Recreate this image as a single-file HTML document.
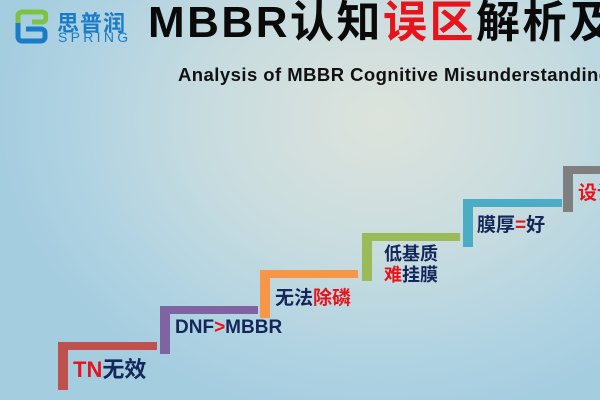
<!DOCTYPE html>
<html><head><meta charset="utf-8"><style>
body{margin:0}
#c{position:relative;width:600px;height:400px;overflow:hidden;
background:radial-gradient(ellipse 380px 300px at 380px 120px,#dde3dc 0%,#c8dcdf 45%,#b0d3e2 80%,#a5cde0 100%);
font-family:"Liberation Sans","Noto Sans CJK SC",sans-serif;font-weight:bold}
.a{position:absolute;white-space:nowrap}
.s{position:absolute}
.r{color:#e8141c}.n{color:#15275a}
</style></head><body><div id="c">
<svg class="s" style="left:14px;top:9px" width="34" height="36" viewBox="0 0 34 36">
<path d="M4 16 V7 a4 4 0 0 1 4-4 H28 a4 4 0 0 1 4 4 V9 a4 4 0 0 1 -4 4 H18" fill="none" stroke="#7dc242" stroke-width="5"/>
<path d="M4 14 V28 a4 4 0 0 0 4 4 H27 a4 4 0 0 0 4-4 V24 a4 4 0 0 0 -4-4 H12" fill="none" stroke="#1a7bc9" stroke-width="5"/>
</svg>
<div class="a" style="left:57px;top:6px;font-size:22px;color:#1a7bc9;letter-spacing:1px">思普润</div>
<div class="a" style="left:58px;top:29px;font-size:14px;color:#1a7bc9;letter-spacing:3.3px;font-weight:normal">SPRING</div>
<div class="a" style="left:148px;top:-2px;font-size:44px;color:#0a0a0a;line-height:50px;letter-spacing:2.5px">MBBR认知<span class="r">误区</span>解析及</div>
<div class="a" style="left:178px;top:64px;font-size:18.5px;color:#111;letter-spacing:0.45px">Analysis of MBBR Cognitive Misunderstanding</div>

<div class="s" style="left:58px;top:342px;width:99px;height:8px;background:#c0504d"></div>
<div class="s" style="left:58px;top:342px;width:10px;height:48px;background:#c0504d"></div>
<div class="s" style="left:160px;top:306px;width:98px;height:8px;background:#8064a2"></div>
<div class="s" style="left:160px;top:306px;width:10px;height:48px;background:#8064a2"></div>
<div class="s" style="left:260px;top:270px;width:98px;height:8px;background:#f79646"></div>
<div class="s" style="left:260px;top:270px;width:10px;height:48px;background:#f79646"></div>
<div class="s" style="left:362px;top:233px;width:98px;height:8px;background:#9bbb59"></div>
<div class="s" style="left:362px;top:233px;width:10px;height:48px;background:#9bbb59"></div>
<div class="s" style="left:463px;top:199px;width:99px;height:8px;background:#4bacc6"></div>
<div class="s" style="left:463px;top:199px;width:10px;height:48px;background:#4bacc6"></div>
<div class="s" style="left:563px;top:166px;width:40px;height:8px;background:#7f7f7f"></div>
<div class="s" style="left:563px;top:166px;width:10px;height:46px;background:#7f7f7f"></div>

<div class="a n" style="left:73px;top:352px;font-size:22px"><span class="r">TN</span>无效</div>
<div class="a n" style="left:175px;top:317px;font-size:19px">DNF<span class="r">&gt;</span>MBBR</div>
<div class="a n" style="left:275px;top:283px;font-size:19px">无法<span class="r">除磷</span></div>
<div class="a n" style="left:384px;top:244px;font-size:18px;line-height:21px">低基质<br><span class="r">难</span>挂膜</div>
<div class="a n" style="left:477px;top:210px;font-size:19px">膜厚<span class="r">=</span>好</div>
<div class="a r" style="left:578px;top:178px;font-size:19px">设计</div>
</div></body></html>
